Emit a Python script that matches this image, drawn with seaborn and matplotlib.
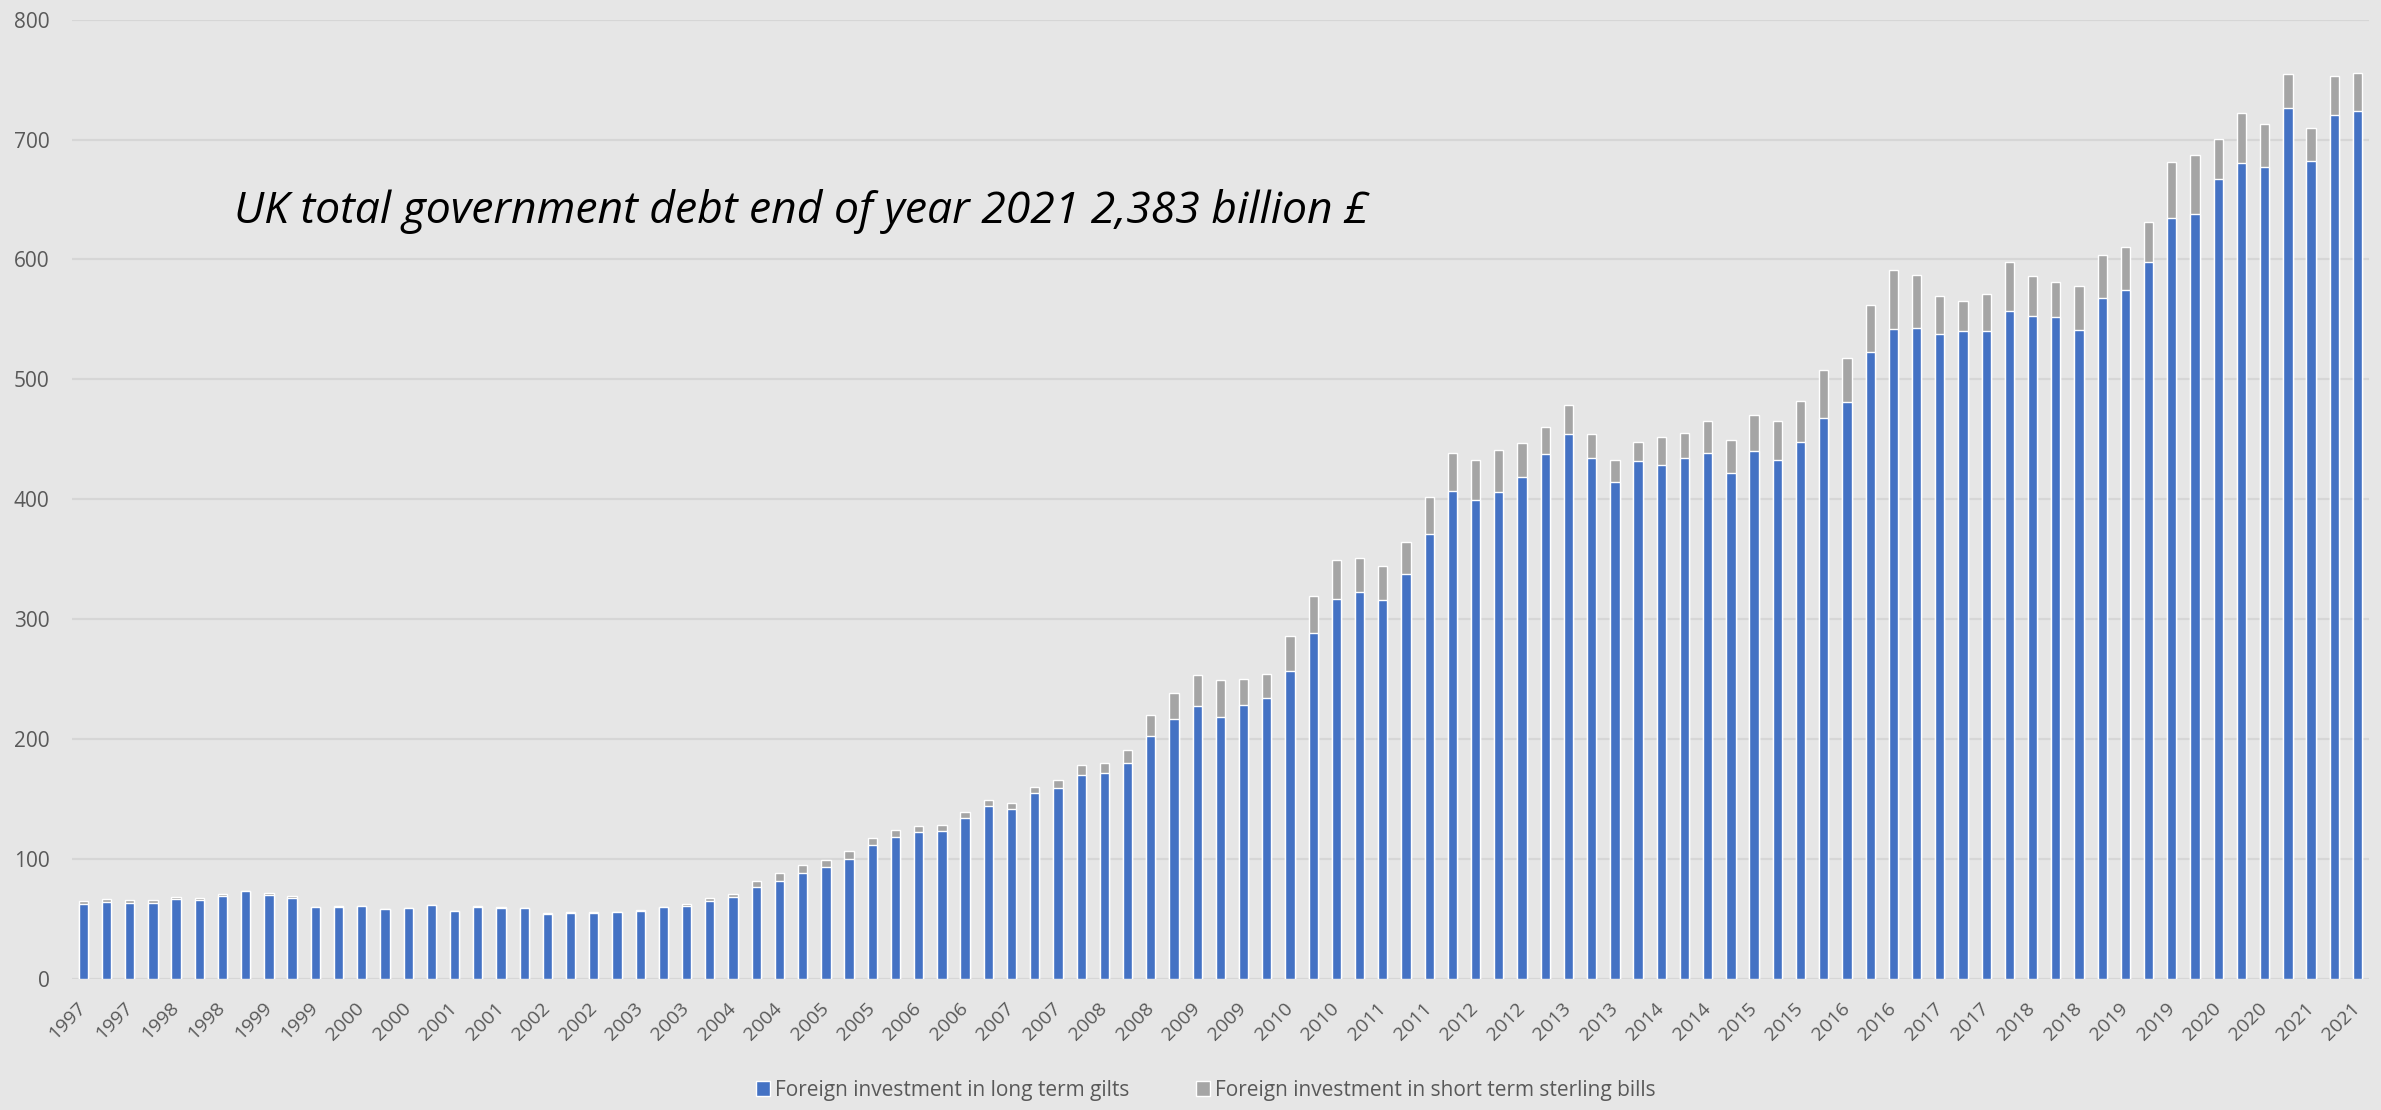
import matplotlib
matplotlib.use("Agg")
import matplotlib.pyplot as plt
import pandas as pd
import seaborn as sns
from matplotlib.patches import Patch

# Quarterly observations, 1997 Q1 to 2021 Q3 (billion £)
years = list(range(1997, 2022))
quarters = [f"{y} Q{q}" for y in years for q in range(1, 5)][:99]

long_term_gilts = [
    62.5, 64.4, 63.6, 63.6, 66.9, 66.1, 69.4, 73.3, 70.0, 67.8,
    59.7, 60.3, 60.5, 58.0, 58.9, 61.4, 56.4, 60.3, 59.4, 59.2,
    54.4, 54.7, 55.3, 55.5, 57.0, 60.0, 61.1, 65.3, 68.6, 77.0,
    81.7, 88.6, 93.3, 100.0, 111.9, 118.6, 122.8, 123.3, 134.2, 144.2,
    141.7, 155.3, 159.2, 170.3, 171.8, 180.2, 203.0, 217.2, 227.9, 218.6,
    228.3, 234.7, 256.9, 288.3, 316.7, 322.8, 316.1, 337.8, 371.1, 406.7,
    399.4, 406.1, 418.3, 437.8, 454.2, 434.4, 414.4, 431.9, 428.6, 434.2,
    438.6, 421.9, 440.0, 432.5, 447.5, 467.5, 480.8, 523.1, 541.9, 542.8,
    538.1, 540.3, 540.3, 556.9, 552.8, 551.9, 540.8, 568.3, 574.2, 597.8,
    634.2, 637.8, 666.9, 680.3, 676.9, 726.1, 682.5, 720.3, 723.9,
]

short_term_bills = [
    2.5, 2.5, 2.2, 1.9, 1.3, 1.4, 1.6, 0.3, 2.0, 1.4,
    0.6, 0.5, 0.3, 0.3, 0.3, 0.3, 0.3, 0.5, 0.3, 0.3,
    0.6, 1.1, 0.5, 0.6, 0.8, 0.3, 1.1, 2.2, 2.4, 4.7,
    6.3, 6.3, 6.1, 6.7, 5.3, 5.3, 4.7, 5.3, 5.0, 4.7,
    5.2, 5.0, 6.4, 7.8, 8.5, 11.0, 17.0, 21.4, 25.4, 30.8,
    21.7, 19.7, 28.9, 30.9, 32.7, 28.3, 28.1, 26.4, 30.6, 31.9,
    33.4, 35.0, 28.7, 22.5, 24.1, 19.8, 18.1, 15.6, 23.6, 20.8,
    26.7, 27.2, 30.0, 33.2, 34.2, 40.0, 36.7, 39.2, 49.5, 44.4,
    31.3, 25.5, 31.1, 41.2, 33.3, 29.2, 37.3, 35.3, 36.4, 33.6,
    47.5, 49.4, 33.9, 41.9, 36.2, 28.3, 27.2, 32.8, 31.4,
]

year_labels = [q.split()[0] for q in quarters]

title_text = "UK total government debt end of year 2021 2,383 billion £"
legend_labels = [
    "Foreign investment in long term gilts",
    "Foreign investment in short term sterling bills",
]

BLUE = "#4472C4"
GREY = "#A5A5A5"
BG = "#E6E6E6"
GRID = "#D6D6D6"
TEXT = "#595959"

df = pd.DataFrame({
    "quarter": quarters,
    "long": long_term_gilts,
    "total": [a + b for a, b in zip(long_term_gilts, short_term_bills)],
})

sns.set_theme(style="white", rc={
    "axes.facecolor": BG,
    "figure.facecolor": BG,
    "savefig.facecolor": BG,
})
plt.rcParams["font.family"] = ["Open Sans", "DejaVu Sans"]

fig = plt.figure(figsize=(23.81, 11.10), dpi=100)
ax = fig.add_axes([0.0301, 0.118, 0.9649, 0.8643])

# Stacked columns: total in grey underneath, long-term gilts in blue on top
sns.barplot(data=df, x="quarter", y="total", order=quarters, color=GREY,
            width=0.4, saturation=1, errorbar=None, ax=ax, zorder=2)
sns.barplot(data=df, x="quarter", y="long", order=quarters, color=BLUE,
            width=0.4, saturation=1, errorbar=None, ax=ax, zorder=3)

ax.set_xlim(-0.5, len(quarters) - 0.5)
ax.set_ylim(0, 800)
ax.set_yticks(range(0, 801, 100))
ax.set_xlabel("")
ax.set_ylabel("")

ax.yaxis.grid(True, color=GRID, linewidth=1.6)
ax.set_axisbelow(True)
for side in ["top", "right", "left", "bottom"]:
    ax.spines[side].set_visible(False)

tick_idx = list(range(0, len(quarters), 2))
ax.set_xticks(tick_idx)
ax.set_xticklabels([year_labels[i] for i in tick_idx], rotation=45,
                   ha="right", va="center", rotation_mode="anchor")
ax.tick_params(axis="x", length=0, pad=19, labelsize=14, labelcolor=TEXT)
ax.tick_params(axis="y", length=0, pad=16, labelsize=15, labelcolor=TEXT)

ax.text(0.0706, 0.788, title_text, transform=ax.transAxes, fontsize=32,
        style="italic", color="black", ha="left", va="baseline")

handles = [Patch(facecolor=BLUE, label=legend_labels[0]),
           Patch(facecolor=GREY, label=legend_labels[1])]
fig.legend(handles=handles, loc="center", bbox_to_anchor=(0.5065, 0.018),
           ncol=2, frameon=False, fontsize=15, labelcolor=TEXT,
           handlelength=0.65, handleheight=0.7, handletextpad=0.25,
           columnspacing=3.2)

fig.savefig("out.png", dpi=100)
